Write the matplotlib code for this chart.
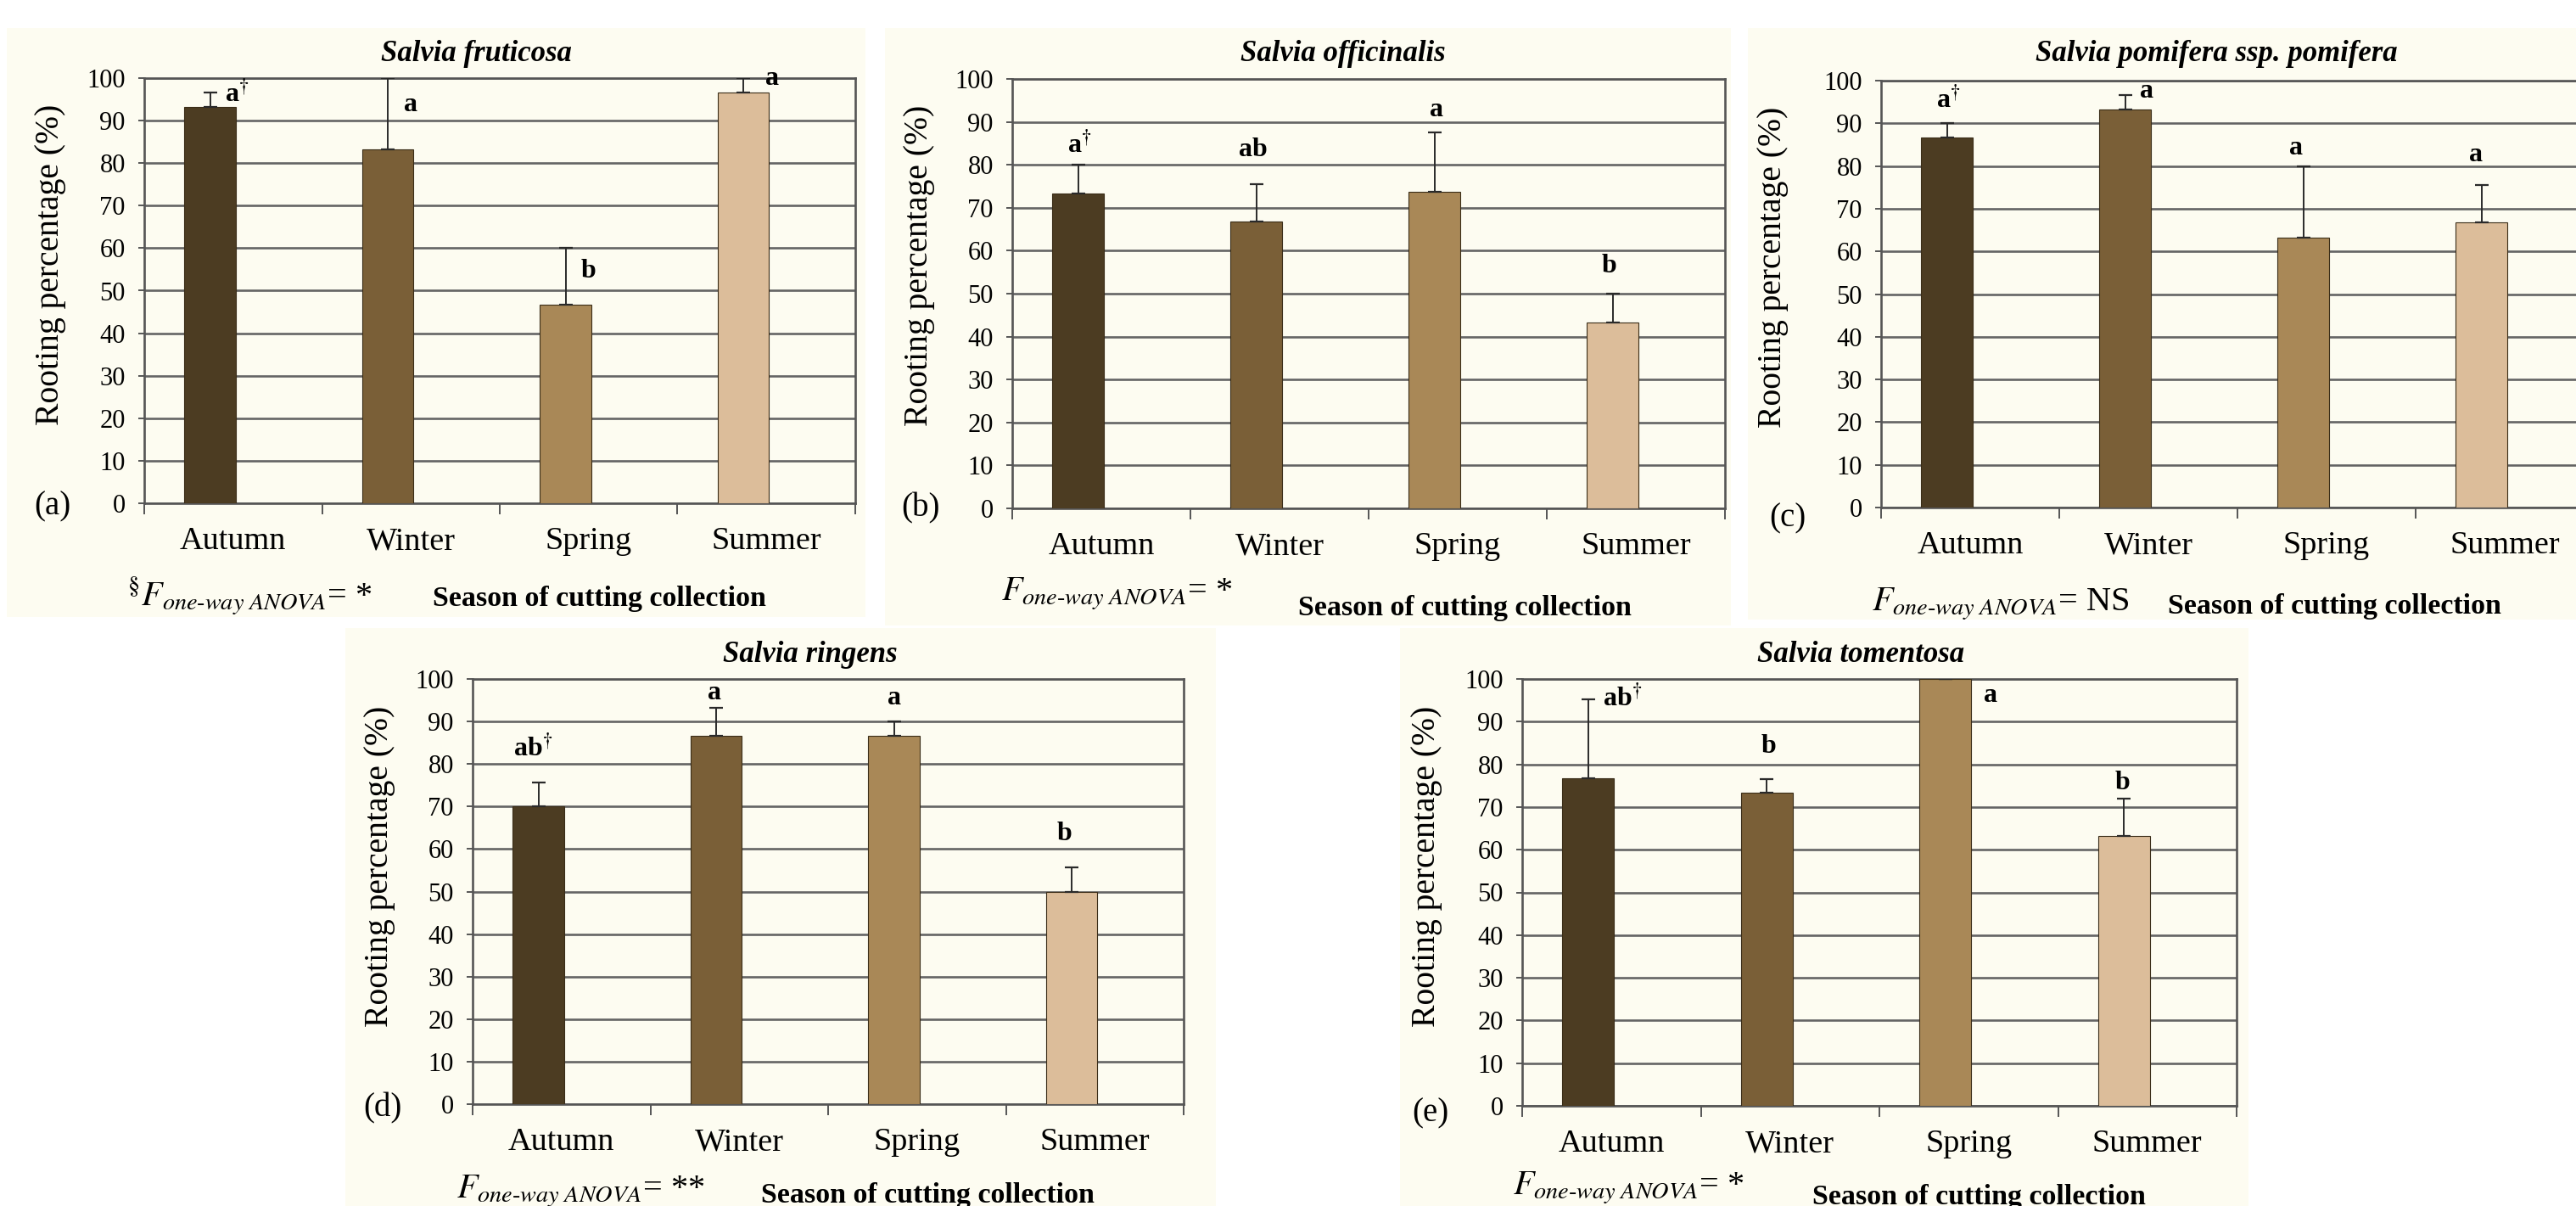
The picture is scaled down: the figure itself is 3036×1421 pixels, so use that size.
import numpy as np
import matplotlib
matplotlib.use("Agg")
import matplotlib.pyplot as plt
from matplotlib.patches import Rectangle

plt.rcParams["font.family"] = ["Liberation Serif", "DejaVu Serif"]
plt.rcParams["mathtext.fontset"] = "stix"

W, H = 3036, 1421

SEASONS = ["Autumn", "Winter", "Spring", "Summer"]
SPECIES = ["Salvia fruticosa", "Salvia officinalis", "Salvia pomifera ssp. pomifera",
           "Salvia ringens", "Salvia tomentosa"]
PANEL_TAGS = ["(a)", "(b)", "(c)", "(d)", "(e)"]

# mean rooting percentage and upper error (SE) per season
FRUTICOSA = [93.3, 83.3, 46.7, 96.7]
FRUTICOSA_SE = [3.4, 16.7, 13.3, 3.3]
OFFICINALIS = [73.3, 66.7, 73.8, 43.3]
OFFICINALIS_SE = [6.7, 8.8, 13.7, 6.7]
POMIFERA = [86.7, 93.3, 63.3, 66.7]
POMIFERA_SE = [3.3, 3.4, 16.7, 8.8]
RINGENS = [70.0, 86.7, 86.7, 50.0]
RINGENS_SE = [5.6, 6.6, 3.3, 5.6]
TOMENTOSA = [76.7, 73.3, 100.0, 63.3]
TOMENTOSA_SE = [18.5, 3.2, 0.0, 8.7]

LETTERS = [["a†", "a", "b", "a"],
           ["a†", "ab", "a", "b"],
           ["a†", "a", "a", "a"],
           ["ab†", "a", "a", "b"],
           ["ab†", "b", "a", "b"]]
ANOVA = ["*", "*", "NS", "**", "*"]

MEANS = [FRUTICOSA, OFFICINALIS, POMIFERA, RINGENS, TOMENTOSA]
ERRS = [FRUTICOSA_SE, OFFICINALIS_SE, POMIFERA_SE, RINGENS_SE, TOMENTOSA_SE]

COLORS = ["#4c3c22", "#7a5f37", "#a98857", "#dcbd9a"]
BG = "#fdfcf1"
GRID = "#646464"

# layout in pixels: axes box (left, right, top, bottom), background box,
# title xy, ylabel xy, tag xy, F-text start xy, season-text start xy
LAYOUT = [
    dict(ax=(170, 1008, 92, 593), bg=(8, 1020, 33, 727), title=(561, 64),
         ylab=(60, 312), tag=(40, 597), ftxt=(150, 702), stxt=(510, 705)),
    dict(ax=(1193, 2033, 93, 599), bg=(1043, 2040, 33, 737), title=(1583, 64),
         ylab=(1083, 313), tag=(1062, 599), ftxt=(1180, 700), stxt=(1530, 716)),
    dict(ax=(2217, 3057, 95, 598), bg=(2060, 3036, 33, 730), title=(2612, 64),
         ylab=(2090, 315), tag=(2085, 611), ftxt=(2206, 712), stxt=(2555, 714)),
    dict(ax=(557, 1395, 800, 1301), bg=(407, 1433, 740, 1421), title=(955, 771),
         ylab=(448, 1021), tag=(428, 1306), ftxt=(538, 1404), stxt=(897, 1408)),
    dict(ax=(1794, 2636, 800, 1303), bg=(1650, 2650, 740, 1421), title=(2193, 771),
         ylab=(1682, 1021), tag=(1664, 1312), ftxt=(1783, 1400), stxt=(2136, 1410)),
]
# letter label positions: x offset from category centre, y value
LETTER_POS = [
    ([0.02, 0.0, 0.0, 0.03], [96.4, 93.8, 54.5, 100.0]),
    ([-0.12, -0.15, -0.12, -0.15], [84.6, 83.4, 92.7, 56.4]),
    ([-0.12, -0.01, -0.17, -0.16], [95.6, 97.6, 84.2, 82.6]),
    ([-0.16, -0.14, -0.13, -0.17], [83.8, 96.8, 95.6, 63.5]),
    ([0.06, -0.12, 0.12, -0.14], [95.6, 84.2, 96.2, 75.7]),
]

F_LABEL = r"$F_{\mathit{one" + "\u2010" + r"way\ ANOVA}}$= "


def fx(px):
    return px / W


def fy(py):
    return 1 - py / H


fig = plt.figure(figsize=(W / 100, H / 100), dpi=100)
fig.patch.set_facecolor("white")

for k in range(5):
    lay = LAYOUT[k]
    x0, x1, y0, y1 = lay["bg"]
    fig.patches.append(Rectangle((fx(x0), fy(y1)), fx(x1 - x0), (y1 - y0) / H,
                                 transform=fig.transFigure, facecolor=BG,
                                 edgecolor="none", zorder=-5))
    l, r, t, b = lay["ax"]
    ax = fig.add_axes([fx(l), fy(b), fx(r - l), (b - t) / H])
    ax.set_facecolor("none")
    x = np.arange(4)
    ax.bar(x - 0.13, MEANS[k], width=0.29, color=COLORS, edgecolor="#3a2d18",
           linewidth=0.8, zorder=3)
    ax.errorbar(x - 0.13, MEANS[k], yerr=[np.zeros(4), ERRS[k]], fmt="none",
                ecolor="#2a2a2a", elinewidth=1.4, capsize=5.5, capthick=1.6, zorder=4)
    ax.set_xlim(-0.5, 3.5)
    ax.set_ylim(0, 100)
    ax.set_yticks(range(0, 101, 10))
    ax.yaxis.grid(True, color=GRID, linewidth=1.9, zorder=1)
    ax.set_axisbelow(True)
    ax.set_xticks(x)
    ax.set_xticklabels(SEASONS, fontsize=27.5)
    ax.set_xticks(np.arange(-0.5, 4, 1), minor=True)
    ax.tick_params(axis="x", which="major", length=0, pad=20)
    ax.tick_params(axis="x", which="minor", length=9, width=1.4, color="#555555",
                   direction="out")
    ax.tick_params(axis="y", length=5, width=1.4, color="#555555", labelsize=22, pad=11)
    for s in ax.spines.values():
        s.set_color("#555555")
        s.set_linewidth(1.9)

    dxs, lys = LETTER_POS[k]
    for i in range(4):
        txt = LETTERS[k][i]
        if txt.endswith("†"):
            txt = txt[:-1] + r"$^{\mathbf{\dagger}}$"
        ax.text(i + dxs[i], lys[i], txt, ha="center", va="center", fontsize=23,
                fontweight="bold", zorder=5, clip_on=False)

    fig.text(fx(lay["title"][0]), fy(lay["title"][1]), SPECIES[k], ha="center",
             va="center", fontsize=25, fontweight="bold", fontstyle="italic")
    fig.text(fx(lay["ylab"][0]), fy(lay["ylab"][1]), "Rooting percentage (%)",
             ha="center", va="center", rotation=90, fontsize=28.5)
    fig.text(fx(lay["tag"][0]), fy(lay["tag"][1]), PANEL_TAGS[k], ha="left",
             va="center", fontsize=28)
    pre = r"$^{\S}$" if k == 0 else ""
    fig.text(fx(lay["ftxt"][0]), fy(lay["ftxt"][1]), pre + F_LABEL + ANOVA[k],
             ha="left", va="center", fontsize=29)
    fig.text(fx(lay["stxt"][0]), fy(lay["stxt"][1]), "Season of cutting collection",
             ha="left", va="center", fontsize=24.5, fontweight="bold")

fig.savefig("out.png", dpi=100, facecolor="white")
